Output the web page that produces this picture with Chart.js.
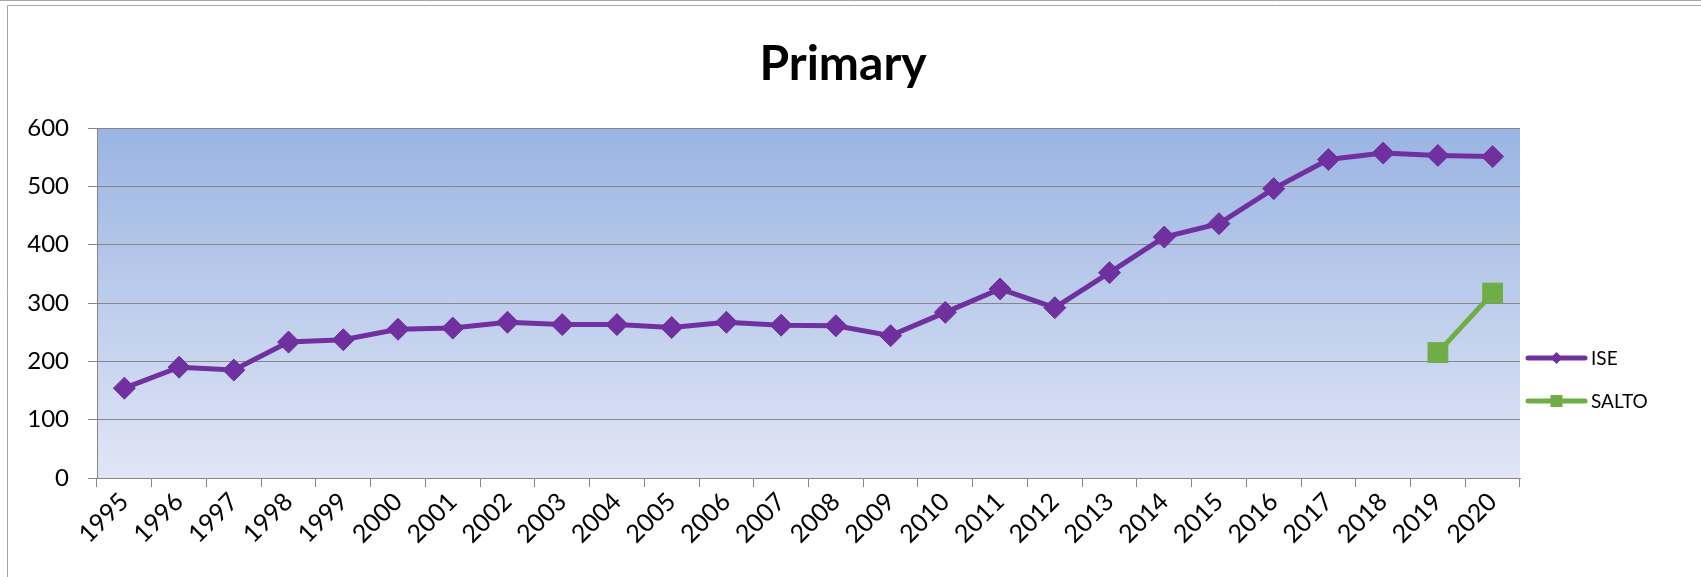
<!DOCTYPE html>
<html>
<head>
<meta charset="utf-8">
<script src="https://cdn.jsdelivr.net/npm/chart.js@4.4.0/dist/chart.umd.min.js"></script>
<style>
    html, body { margin: 0; padding: 0; background: #fff; }
    #wrap { position: relative; width: 1701px; height: 577px; }
</style>
</head>
<body>
<div id="wrap"><canvas id="chart" width="1701" height="577"></canvas></div>
<script>
// Données
const years = ['1995', '1996', '1997', '1998', '1999', '2000', '2001', '2002', '2003', '2004',
    '2005', '2006', '2007', '2008', '2009', '2010', '2011', '2012', '2013', '2014',
    '2015', '2016', '2017', '2018', '2019', '2020'];
const iseValues = [154, 190, 185, 233, 237, 255, 257, 267, 263, 263,
    258, 267, 262, 261, 244, 284, 324, 292, 352, 413,
    436, 496, 546, 557, 553, 551];
const saltoValues = [null, null, null, null, null, null, null, null, null, null,
    null, null, null, null, null, null, null, null, null, null,
    null, null, null, null, 215, 317];
const yTicks = [0, 100, 200, 300, 400, 500, 600];
const seriesNames = ['ISE', 'SALTO'];

const purple = '#7030A0';
const green = '#70AD47';
const gridGray = '#868686';
const fontFamily = 'Lato, "Open Sans", sans-serif';

// Fond dégradé de la zone de tracé + cadre
const plotBackground = {
    id: 'plotBackground',
    beforeDraw(chart) {
        const { ctx, chartArea: a, width, height } = chart;
        ctx.save();
        ctx.fillStyle = '#fff';
        ctx.fillRect(0, 0, width, height);
        ctx.strokeStyle = '#a6a6a6';
        ctx.lineWidth = 1;
        ctx.beginPath();
        ctx.moveTo(0, 0.5);
        ctx.lineTo(width, 0.5);
        ctx.moveTo(7.5, height);
        ctx.lineTo(7.5, 5.5);
        ctx.lineTo(width, 5.5);
        ctx.stroke();
        const grad = ctx.createLinearGradient(0, a.top, 0, a.bottom);
        grad.addColorStop(0, '#9AB4E2');
        grad.addColorStop(1, '#E0E6F5');
        ctx.fillStyle = grad;
        ctx.fillRect(a.left, a.top, a.right - a.left, a.bottom - a.top);
        ctx.restore();
    }
};

// Titre et légende dessinés à la main (position comme dans Excel)
const titleAndLegend = {
    id: 'titleAndLegend',
    afterDraw(chart) {
        const { ctx } = chart;
        ctx.save();
        ctx.fillStyle = '#000';
        ctx.font = 'bold 48px ' + fontFamily;
        ctx.textAlign = 'center';
        ctx.textBaseline = 'alphabetic';
        ctx.fillText('Primary', 843, 80);

        const items = [
            { name: seriesNames[0], color: purple, y: 358, marker: 'diamond' },
            { name: seriesNames[1], color: green, y: 401, marker: 'square' }
        ];
        items.forEach(item => {
            ctx.strokeStyle = item.color;
            ctx.lineWidth = 5;
            ctx.lineCap = 'round';
            ctx.beginPath();
            ctx.moveTo(1528, item.y);
            ctx.lineTo(1585, item.y);
            ctx.stroke();
            ctx.fillStyle = item.color;
            const cx = 1556.5;
            ctx.beginPath();
            if (item.marker === 'diamond') {
                ctx.moveTo(cx - 6, item.y);
                ctx.lineTo(cx, item.y - 6);
                ctx.lineTo(cx + 6, item.y);
                ctx.lineTo(cx, item.y + 6);
                ctx.closePath();
            } else {
                ctx.rect(cx - 6, item.y - 6, 12, 12);
            }
            ctx.fill();
            ctx.fillStyle = '#000';
            ctx.font = '19px ' + fontFamily;
            ctx.textAlign = 'left';
            ctx.textBaseline = 'middle';
            ctx.fillText(item.name, 1591, item.y + 1);
        });
        ctx.restore();
    }
};

const ctx = document.getElementById('chart').getContext('2d');
new Chart(ctx, {
    type: 'line',
    data: {
        labels: years,
        datasets: [
            {
                label: seriesNames[0],
                data: iseValues,
                borderColor: purple,
                backgroundColor: purple,
                borderWidth: 5,
                pointStyle: 'rectRot',
                pointRadius: 11,
                pointBorderWidth: 1,
                pointBackgroundColor: purple,
                pointBorderColor: purple,
                tension: 0
            },
            {
                label: seriesNames[1],
                data: saltoValues,
                borderColor: green,
                backgroundColor: green,
                borderWidth: 5,
                pointStyle: 'rect',
                pointRadius: 14,
                pointBorderWidth: 1,
                pointBackgroundColor: green,
                pointBorderColor: green,
                tension: 0
            }
        ]
    },
    options: {
        responsive: false,
        animation: false,
        layout: {
            padding: { left: 0, right: 181, top: 128, bottom: 0 }
        },
        plugins: {
            legend: { display: false },
            title: { display: false },
            tooltip: { enabled: false }
        },
        scales: {
            x: {
                offset: true,
                grid: {
                    display: true,
                    drawOnChartArea: false,
                    drawTicks: true,
                    tickLength: 9,
                    color: gridGray,
                    offset: true
                },
                border: { display: true, color: gridGray, width: 1 },
                ticks: {
                    autoSkip: false,
                    minRotation: 45,
                    maxRotation: 45,
                    padding: 0,
                    color: '#000',
                    font: { family: fontFamily, size: 25 }
                },
                afterFit(scale) {
                    scale.height = 99;
                }
            },
            y: {
                min: 0,
                max: 600,
                afterBuildTicks(scale) {
                    scale.ticks = yTicks.map(v => ({ value: v }));
                },
                grid: {
                    color: gridGray,
                    tickLength: 9,
                    lineWidth: 1
                },
                border: { display: true, color: gridGray, width: 1 },
                ticks: {
                    padding: 19,
                    color: '#000',
                    font: { family: fontFamily, size: 24 }
                },
                afterFit(scale) {
                    scale.width = 97;
                }
            }
        }
    },
    plugins: [plotBackground, titleAndLegend]
});
</script>
</body>
</html>
